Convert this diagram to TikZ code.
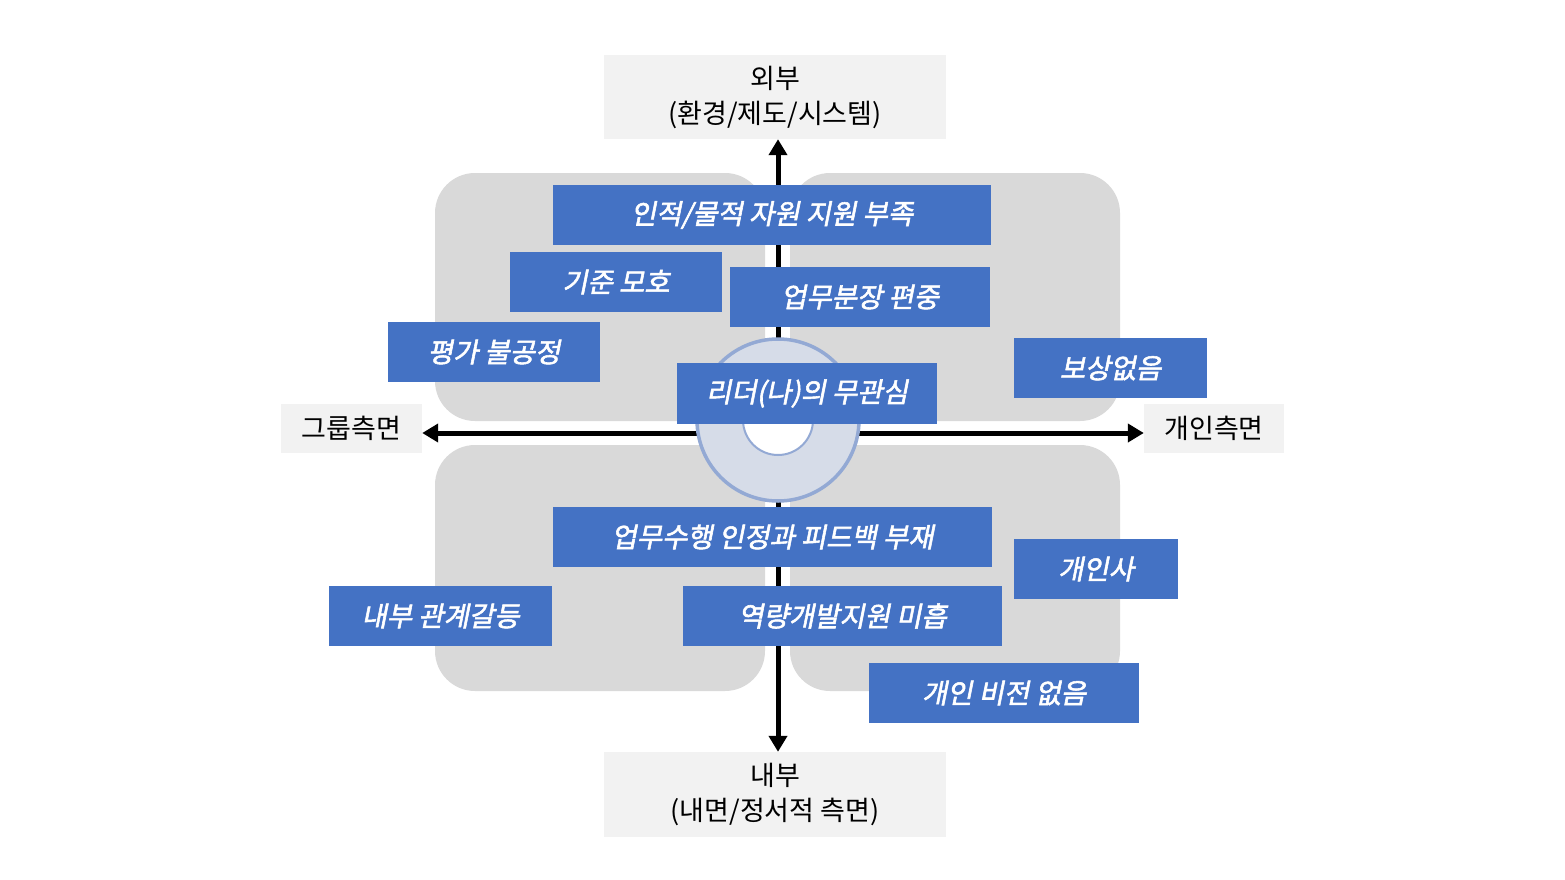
\documentclass[tikz,border=0pt]{standalone}
\usepackage{fontspec}
\usetikzlibrary{arrows.meta}
\newfontfamily\kr{Noto Sans CJK KR}
\newfontfamily\krbi[FakeSlant=0.2,FakeBold=2]{Noto Sans CJK KR}
\definecolor{quad}{HTML}{D9D9D9}
\definecolor{lbl}{HTML}{F2F2F2}
\definecolor{boxblue}{HTML}{4472C4}
\definecolor{ringfill}{HTML}{D6DCE8}
\definecolor{ringline}{HTML}{93A9D4}
\tikzset{
  quadbox/.style={fill=quad, rounded corners=40pt},
  bluebox/.style={fill=boxblue, text=white, inner sep=0pt, font=\krbi\fontsize{27.5}{31}\selectfont},
  lblbox/.style={fill=lbl, inner sep=0pt, align=center, font=\kr\fontsize{27}{35}\selectfont},
  axis/.style={line width=5pt, -{Triangle[width=18pt,length=16pt]}}
}
\begin{document}
\begin{tikzpicture}[x=1pt,y=-1pt]
\useasboundingbox (0,0) rectangle (1565,880);
% quadrants
\fill[quadbox] (435,173) rectangle (765,421);
\fill[quadbox] (790,173) rectangle (1120,421);
\fill[quadbox] (435,445) rectangle (765,691);
\fill[quadbox] (790,445) rectangle (1120,691);
% label boxes
\node[lblbox, minimum width=342pt, minimum height=84pt] (ext) at (775,97) {외부\\(환경/제도/시스템)};
\node[lblbox, minimum width=342pt, minimum height=85pt] (int) at (775,794.5) {내부\\(내면/정서적 측면)};
\node[lblbox, minimum width=141pt, minimum height=49pt] (grp) at (351.5,428.5) {그룹측면};
\node[lblbox, minimum width=140pt, minimum height=49pt] (ind) at (1214,428.5) {개인측면};
% axes
\coordinate (c) at (778,433);
\coordinate (cv) at (778,420);
\draw[axis] (778,433) -- (ext.south -| cv);
\draw[axis] (778,433) -- (int.north -| cv);
\draw[axis] (c) -- (grp.east |- c);
\draw[axis] (c) -- (ind.west |- c);
% donut
\node[circle, fill=ringfill, draw=ringline, line width=3.5pt, minimum size=162pt, inner sep=0pt] (ring) at (778,420) {};
\node[circle, fill=white, draw=ringline, line width=2pt, minimum size=70pt, inner sep=0pt] (hole) at (ring.center) {};
% blue boxes
\node[bluebox, minimum width=438pt, minimum height=60pt] (b1) at (772,215) {인적/물적 자원 지원 부족};
\node[bluebox, minimum width=212pt, minimum height=60pt] (b2) at (616,282) {기준 모호};
\node[bluebox, minimum width=260pt, minimum height=60pt] (b3) at (860,297) {업무분장 편중};
\node[bluebox, minimum width=212pt, minimum height=60pt] (b4) at (494,352) {평가 불공정};
\node[bluebox, minimum width=260pt, minimum height=61pt] (b5) at (807,393.5) {리더(나)의 무관심};
\node[bluebox, minimum width=193pt, minimum height=60pt] (b6) at (1110.5,368) {보상없음};
\node[bluebox, minimum width=439pt, minimum height=60pt] (b7) at (772.5,537) {업무수행 인정과 피드백 부재};
\node[bluebox, minimum width=164pt, minimum height=60pt] (b8) at (1096,569) {개인사};
\node[bluebox, minimum width=223pt, minimum height=60pt] (b9) at (440.5,616) {내부 관계갈등};
\node[bluebox, minimum width=319pt, minimum height=60pt] (b10) at (842.5,616) {역량개발지원 미흡};
\node[bluebox, minimum width=270pt, minimum height=60pt] (b11) at (1004,693) {개인 비전 없음};
\end{tikzpicture}
\end{document}
